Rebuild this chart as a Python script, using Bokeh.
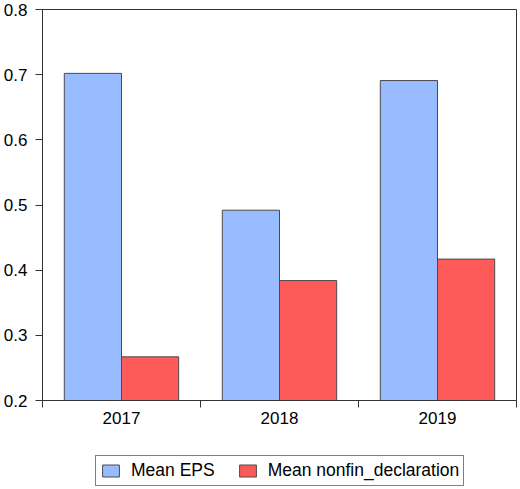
from bokeh.plotting import figure
from bokeh.layouts import column
from bokeh.models import (ColumnDataSource, FixedTicker, LinearAxis, Legend,
                          LegendItem, Range1d, CustomJSTickFormatter)
from bokeh.embed import file_html
from bokeh.resources import INLINE

# Yearly means
years = ["2017", "2018", "2019"]
mean_eps = [0.702, 0.492, 0.691]
mean_nonfin = [0.267, 0.384, 0.417]
y_ticks = [0.2, 0.3, 0.4, 0.5, 0.6, 0.7, 0.8]
series_names = ["Mean EPS", "Mean nonfin_declaration"]

FONT = "Liberation Sans"
BLUE = "#99BBFF"
RED = "#FF5A5A"
EDGE = "#4a4a4a"

centers = [i + 0.5 for i in range(len(years))]
bar_w = 0.362

src = ColumnDataSource(dict(
    x_eps=[c - bar_w / 2 for c in centers],
    x_non=[c + bar_w / 2 for c in centers],
    eps=mean_eps,
    non=mean_nonfin,
))

bar_style = dict(bottom=0.2, width=bar_w, source=src, line_color=EDGE, line_width=1)

p = figure(width=520, height=440, output_backend="svg", toolbar_location=None,
           x_range=Range1d(0, len(years)), y_range=Range1d(0.2, 0.8),
           x_axis_location=None, y_axis_location=None)
p.min_border_left = 40
p.min_border_right = 4
p.min_border_top = 9
p.min_border_bottom = 40
p.background_fill_color = "white"
p.border_fill_color = "white"
p.outline_line_color = "#333333"
p.outline_line_width = 1
p.xgrid.visible = False
p.ygrid.visible = False

p.vbar(x="x_eps", top="eps", fill_color=BLUE, **bar_style)
p.vbar(x="x_non", top="non", fill_color=RED, **bar_style)

# Left value axis
yax = LinearAxis(ticker=FixedTicker(ticks=y_ticks))
yax.formatter = CustomJSTickFormatter(code="return tick.toFixed(1);")
yax.axis_line_color = "#333333"
yax.major_tick_line_color = "#333333"
yax.major_tick_out = 7
yax.major_tick_in = 0
yax.minor_tick_line_color = None
yax.major_label_standoff = 8
yax.major_label_text_font = FONT
yax.major_label_text_font_size = "17px"
yax.major_label_text_color = "black"
p.add_layout(yax, "left")

# Bottom axis: tick marks at group boundaries
xax_ticks = LinearAxis(ticker=FixedTicker(ticks=list(range(len(years) + 1))))
xax_ticks.formatter = CustomJSTickFormatter(code="return '';")
xax_ticks.axis_line_color = "#333333"
xax_ticks.major_tick_line_color = "#333333"
xax_ticks.major_tick_out = 7
xax_ticks.major_tick_in = 0
xax_ticks.minor_tick_line_color = None
xax_ticks.major_label_text_font_size = "0px"
xax_ticks.major_label_standoff = 0
p.add_layout(xax_ticks, "below")

# Year labels centred in each group
year_labels = {c: y for c, y in zip(centers, years)}
xax_lab = LinearAxis(ticker=FixedTicker(ticks=centers))
xax_lab.major_label_overrides = year_labels
xax_lab.axis_line_color = None
xax_lab.major_tick_line_color = None
xax_lab.minor_tick_line_color = None
xax_lab.major_tick_out = 0
xax_lab.major_tick_in = 0
xax_lab.major_label_standoff = 4
xax_lab.major_label_text_font = FONT
xax_lab.major_label_text_font_size = "17px"
xax_lab.major_label_text_color = "black"
p.add_layout(xax_lab, "below")

# Legend strip below the chart (its frame is aligned with the chart's frame);
# the key renderers share the chart's data but stay hidden here.
lg = figure(width=520, height=49, output_backend="svg", toolbar_location=None,
            x_range=Range1d(0, 1), y_range=Range1d(0, 1),
            x_axis_location=None, y_axis_location=None)
lg.min_border = 0
lg.outline_line_color = None
lg.background_fill_color = "white"
lg.border_fill_color = "white"
lg.xgrid.visible = False
lg.ygrid.visible = False
k_eps = lg.vbar(x="x_eps", top="eps", fill_color=BLUE, visible=False, **bar_style)
k_non = lg.vbar(x="x_non", top="non", fill_color=RED, visible=False, **bar_style)

legend = Legend(items=[LegendItem(label=series_names[0], renderers=[k_eps]),
                       LegendItem(label=series_names[1], renderers=[k_non])],
                orientation="horizontal", location=(53, 3))
legend.label_text_font = FONT
legend.label_text_font_size = "17.5px"
legend.label_text_line_height = 0.9
legend.label_text_color = "black"
legend.glyph_width = 21
legend.glyph_height = 15
legend.label_height = 15
legend.label_standoff = 10
legend.spacing = 22
legend.padding = 4
legend.margin = 0
legend.inactive_fill_alpha = 0.0
legend.border_line_color = "black"
legend.border_line_width = 1
legend.background_fill_color = "white"
legend.background_fill_alpha = 1.0
lg.add_layout(legend, "center")

layout = column(p, lg, spacing=0)
open("out.html", "w").write(file_html(layout, INLINE))
